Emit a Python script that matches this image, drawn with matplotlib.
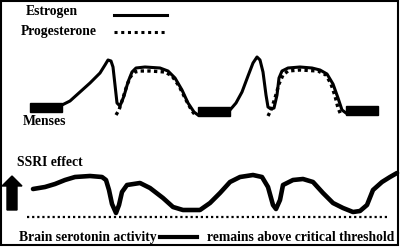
import numpy as np
import matplotlib.pyplot as plt
from matplotlib.patches import Rectangle, FancyArrow

# Кривые гормонов (координаты, в пикселях)
estrogen_x1 = [62, 70, 80, 90, 100, 105, 108, 111, 113, 115, 117, 120, 124, 128, 132, 136, 145, 160, 168, 175, 182, 188, 194, 198]
estrogen_y1 = [105, 101, 92, 83, 73, 65, 60, 61, 67, 85, 103, 106, 96, 82, 72, 68, 67, 68, 71, 78, 90, 103, 112, 115]
progest_x1 = [116, 119, 123, 127, 131, 135, 140, 150, 165, 172, 179, 186, 192, 196]
progest_y1 = [115, 110, 98, 85, 76, 72, 71, 71, 72, 76, 86, 100, 111, 116]

estrogen_x2 = [230, 236, 242, 248, 253, 257, 260, 263, 266, 268, 271, 274, 277, 279, 282, 288, 300, 312, 320, 327, 333, 338, 342, 346]
estrogen_y2 = [110, 103, 92, 76, 63, 57, 60, 72, 95, 107, 109, 108, 95, 78, 71, 68, 67, 68, 70, 74, 84, 98, 110, 113]
progest_x2 = [268, 271, 275, 279, 283, 288, 300, 318, 326, 331, 335, 338, 341]
progest_y2 = [116, 110, 98, 84, 75, 71, 70, 71, 75, 84, 96, 108, 115]

# Менструации
menses_x = [30, 198, 346]
menses_y = [103, 107, 106]
menses_w = 32

# Активность серотонина
sero_x = [33, 45, 55, 65, 75, 90, 102, 106, 109, 112, 116, 119, 122, 127, 140, 150, 163, 173, 183, 200,
          210, 220, 230, 240, 253, 262, 268, 273, 276, 280, 283, 293, 303, 313, 323, 333, 343, 353, 360,
          367, 373, 382, 390, 397]
sero_y = [189, 187, 184, 180, 177, 176, 177, 180, 190, 204, 213, 205, 192, 185, 183, 188, 198, 207, 210, 210,
          203, 193, 182, 177, 175, 177, 187, 205, 209, 200, 185, 180, 179, 182, 193, 203, 208, 212, 211,
          205, 190, 182, 177, 173]
threshold_y = 217

fig = plt.figure(figsize=(4, 2.47), dpi=100)
ax = fig.add_axes([0, 0, 1, 1])
ax.set_xlim(0, 400)
ax.set_ylim(247, 0)
ax.axis('off')

black = 'black'
ax.plot(estrogen_x1, estrogen_y1, color=black, lw=2.2, solid_joinstyle='round')
ax.plot(estrogen_x2, estrogen_y2, color=black, lw=2.2, solid_joinstyle='round')
ax.plot(progest_x1, progest_y1, color=black, lw=2.4, ls=(0, (1, 1)))
ax.plot(progest_x2, progest_y2, color=black, lw=2.4, ls=(0, (1, 1)))

for mx, my in zip(menses_x, menses_y):
    ax.add_patch(Rectangle((mx, my), menses_w, 9, color=black))

ax.plot(sero_x, sero_y, color=black, lw=3.3, solid_joinstyle='round', solid_capstyle='round')
ax.plot([27, 387], [threshold_y, threshold_y], color=black, lw=1.6, ls=(0, (1, 1.3)))

# Легенда
font = dict(family='Liberation Serif', weight='bold', fontsize=9.8, color=black)
ax.text(26, 12, 'Estrogen', va='center', ha='left', **font)
ax.text(21, 32, 'Progesterone', va='center', ha='left', **font)
ax.plot([114, 167], [15, 15], color=black, lw=2.2)
ax.plot([114, 167], [32, 32], color=black, lw=2.2, ls=(0, (1, 1.2)))

ax.text(23, 121, 'Menses', va='center', ha='left', **font)
ax.text(17, 162, 'SSRI effect', va='center', ha='left', **font)
ax.add_patch(FancyArrow(12, 210, 0, -34, width=10, head_width=20, head_length=10,
                        length_includes_head=True, color=black))

ax.text(19, 237, 'Brain serotonin activity', va='center', ha='left', **font)
ax.plot([160, 197], [237, 237], color=black, lw=3)
ax.text(207, 237, 'remains above critical threshold', va='center', ha='left', **font)

ax.add_patch(Rectangle((0.8, 0.8), 397.5, 244.5, fill=False, edgecolor=black, lw=1.5))

plt.savefig('out.png', dpi=100)
